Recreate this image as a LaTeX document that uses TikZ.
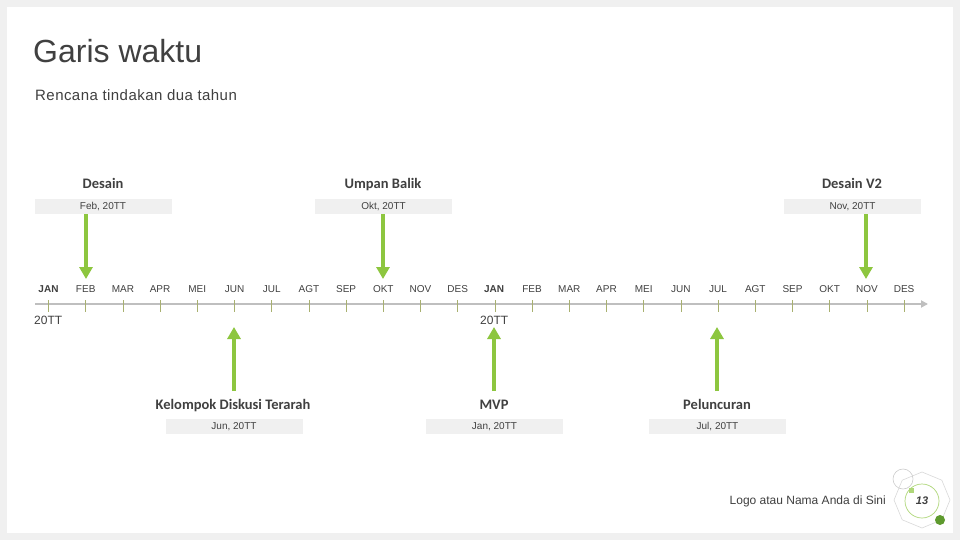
\documentclass[tikz,border=0pt]{standalone}
\usepackage{fontspec}
\setmainfont{Liberation Sans}
\newfontfamily\boldlab{Carlito}
\usetikzlibrary{arrows.meta,shapes.geometric}
\definecolor{bggray}{HTML}{F0F0F0}
\definecolor{boxgray}{HTML}{F0F0F0}
\definecolor{txt}{HTML}{404040}
\definecolor{arrgreen}{HTML}{8DC63F}
\definecolor{tickcol}{HTML}{A8B070}
\definecolor{axiscol}{HTML}{BFBFBF}
\definecolor{darkgreen}{HTML}{5E9A2E}
\tikzset{
  x=1pt, y=-1pt,
  month/.style={font=\fontsize{10}{12}\selectfont, text=txt, inner sep=0pt, anchor=center},
  yearlab/.style={font=\fontsize{12}{14}\selectfont, text=txt, inner sep=0pt, anchor=west},
  evtitle/.style={font=\boldlab\bfseries\fontsize{14.5}{16}\selectfont, text=txt, inner sep=0pt, anchor=base},
  datebox/.style={fill=boxgray, minimum width=137pt, minimum height=15pt, inner sep=0pt, font=\fontsize{10}{12}\selectfont, text=txt},
  evarrow/.style={draw=arrgreen, line width=3.5pt, -{Triangle[width=13pt,length=12pt]}},
  tick/.style={draw=tickcol, line width=0.8pt}
}
\begin{document}
\begin{tikzpicture}
\useasboundingbox (0,0) rectangle (960,540);
\fill[bggray] (0,0) rectangle (960,540);
\fill[white] (7,7) rectangle (953,533);
% titles
\node[anchor=west, inner sep=0pt, text=txt, font=\fontsize{32}{35}\selectfont] (title) at (33,51) {Garis waktu};
\node[anchor=west, inner sep=0pt, text=txt, font=\addfontfeatures{LetterSpace=3}\fontsize{15}{18}\selectfont] (subtitle) at (35,95) {Rencana tindakan dua tahun};
% axis
\coordinate (axstart) at (35,304);
\coordinate (axend) at (928,304);
\draw[axiscol, line width=2pt, -{Triangle[width=7pt,length=7pt]}] (axstart) -- (axend);
% months
\foreach \i in {0,...,23} {
  \pgfmathsetmacro{\xx}{48.5+37.2*\i}
  \coordinate (t\i) at (\xx,304);
  \draw[tick] (\xx,300) -- (\xx,312);
}
\foreach \m [count=\i from 0] in {FEB,MAR,APR,MEI,JUN,JUL,AGT,SEP,OKT,NOV,DES} {
  \pgfmathsetmacro{\xx}{48.5+37.2*(\i+1)}
  \node[month] (ma\i) at (\xx,289) {\m};
}
\foreach \m [count=\i from 0] in {FEB,MAR,APR,MEI,JUN,JUL,AGT,SEP,OKT,NOV,DES} {
  \pgfmathsetmacro{\xx}{48.5+37.2*(\i+13)}
  \node[month] (mb\i) at (\xx,289) {\m};
}
\node[month, font=\bfseries\fontsize{10}{12}\selectfont] (jan1) at (48.5,289) {JAN};
\node[month, font=\bfseries\fontsize{10}{12}\selectfont] (jan2) at (494,289) {JAN};
\node[yearlab] (y1) at (34,320) {20TT};
\node[yearlab] (y2) at (480,320) {20TT};
% top events
\node[evtitle] (e1t) at (103,188.5) {Desain};
\node[datebox] (e1d) at (103,206.5) {Feb, 20TT};
\coordinate (e1a) at (86,214);
\coordinate (e1b) at (86,279);
\draw[evarrow] (e1a) -- (e1b);

\node[evtitle] (e2t) at (383,188.5) {Umpan Balik};
\node[datebox] (e2d) at (383.5,206.5) {Okt, 20TT};
\coordinate (e2a) at (383,214);
\coordinate (e2b) at (383,279);
\draw[evarrow] (e2a) -- (e2b);

\node[evtitle] (e3t) at (852,188.5) {Desain V2};
\node[datebox] (e3d) at (852.5,206.5) {Nov, 20TT};
\coordinate (e3a) at (866,214);
\coordinate (e3b) at (866,279);
\draw[evarrow] (e3a) -- (e3b);
% bottom events
\node[evtitle] (e4t) at (233,409.5) {Kelompok Diskusi Terarah};
\node[datebox] (e4d) at (234,426.5) {Jun, 20TT};
\coordinate (e4a) at (234,391);
\coordinate (e4b) at (234,327);
\draw[evarrow] (e4a) -- (e4b);

\node[evtitle] (e5t) at (494,409.5) {MVP};
\node[datebox] (e5d) at (494.5,426.5) {Jan, 20TT};
\coordinate (e5a) at (494,391);
\coordinate (e5b) at (494,327);
\draw[evarrow] (e5a) -- (e5b);

\node[evtitle] (e6t) at (717,409.5) {Peluncuran};
\node[datebox] (e6d) at (717.5,426.5) {Jul, 20TT};
\coordinate (e6a) at (717,391);
\coordinate (e6b) at (717,327);
\draw[evarrow] (e6a) -- (e6b);
% footer
\node[anchor=east, inner sep=0pt, text=txt, font=\fontsize{12}{14}\selectfont] (logo) at (886,501) {Logo atau Nama Anda di Sini};
\node[regular polygon, regular polygon sides=8, shape border rotate=22.5, minimum size=56pt, inner sep=0pt, draw=black!15, line width=0.6pt] (octa) at (922,500) {};
\node[circle, minimum size=20pt, inner sep=0pt, draw=black!20, line width=0.6pt] (smallc) at (903,479) {};
\node[circle, minimum size=34pt, inner sep=0pt, draw=arrgreen!70, line width=0.7pt] (pagec) at (922,501) {};
\fill[arrgreen!70] (908.5,487.5) rectangle (913.5,492.5);
\node[circle, minimum size=10pt, inner sep=0pt, fill=darkgreen] (dot) at (940,520) {};
\node[inner sep=0pt, text=txt, font=\bfseries\itshape\fontsize{11}{13}\selectfont] (pnum) at (922,501) {13};
\end{tikzpicture}
\end{document}
